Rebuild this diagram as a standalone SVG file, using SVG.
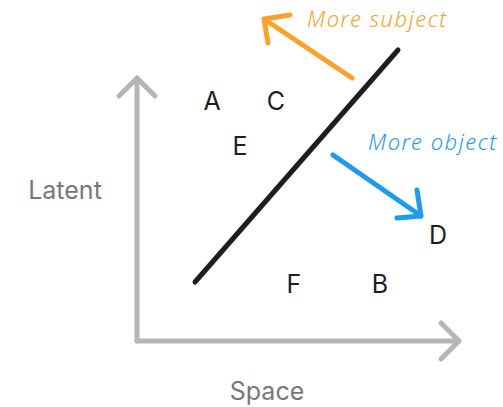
<svg xmlns="http://www.w3.org/2000/svg" width="503" height="407" viewBox="0 0 503 407">
<style>
.ax{fill:none;stroke:#b5b5b5;stroke-width:5;stroke-linecap:round;stroke-linejoin:round}
.axl{font-family:Inter,"Liberation Sans",sans-serif;font-size:25px;fill:#777;text-anchor:middle}
.pt{font-family:Inter,"Liberation Sans",sans-serif;font-size:25px;fill:#1e1e1e;text-anchor:middle}
.hand{font-family:"Noto Sans",sans-serif;font-style:italic;font-weight:300;font-size:22px;letter-spacing:1.5px}
</style>
<rect width="503" height="407" fill="#fff"/>
<g id="axes">
<path class="ax" d="M137,341 V78 M119,96 L137,78 L155,96"/>
<path class="ax" d="M137,341 H459 M441,323 L459,341 L441,359"/>
</g>
<g id="labels">
<text class="axl" x="65" y="199">Latent</text>
<text class="axl" x="267" y="400">Space</text>
</g>
<g id="points">
<text class="pt" x="212" y="110">A</text>
<text class="pt" x="276" y="110">C</text>
<text class="pt" x="240" y="155">E</text>
<text class="pt" x="438" y="244">D</text>
<text class="pt" x="294" y="293">F</text>
<text class="pt" x="380" y="293">B</text>
</g>
<g id="connectors">
<path d="M195,282 L398,50" fill="none" stroke="#1e1e1e" stroke-width="5" stroke-linecap="round"/>
<path d="M352,78 L264,19 M290,15 L264,19 L268,43" fill="none" stroke="#fba22a" stroke-width="5" stroke-linecap="round" stroke-linejoin="round"/>
<path d="M333,155 L421,216 M417,190 L421,216 L397,218" fill="none" stroke="#1e9bf0" stroke-width="5" stroke-linecap="round" stroke-linejoin="round"/>
</g>
<g id="annotations">
<text class="hand" x="307" y="27" fill="#fba22a">More subject</text>
<text class="hand" x="368" y="150" fill="#1e9bf0">More object</text>
</g>
</svg>
